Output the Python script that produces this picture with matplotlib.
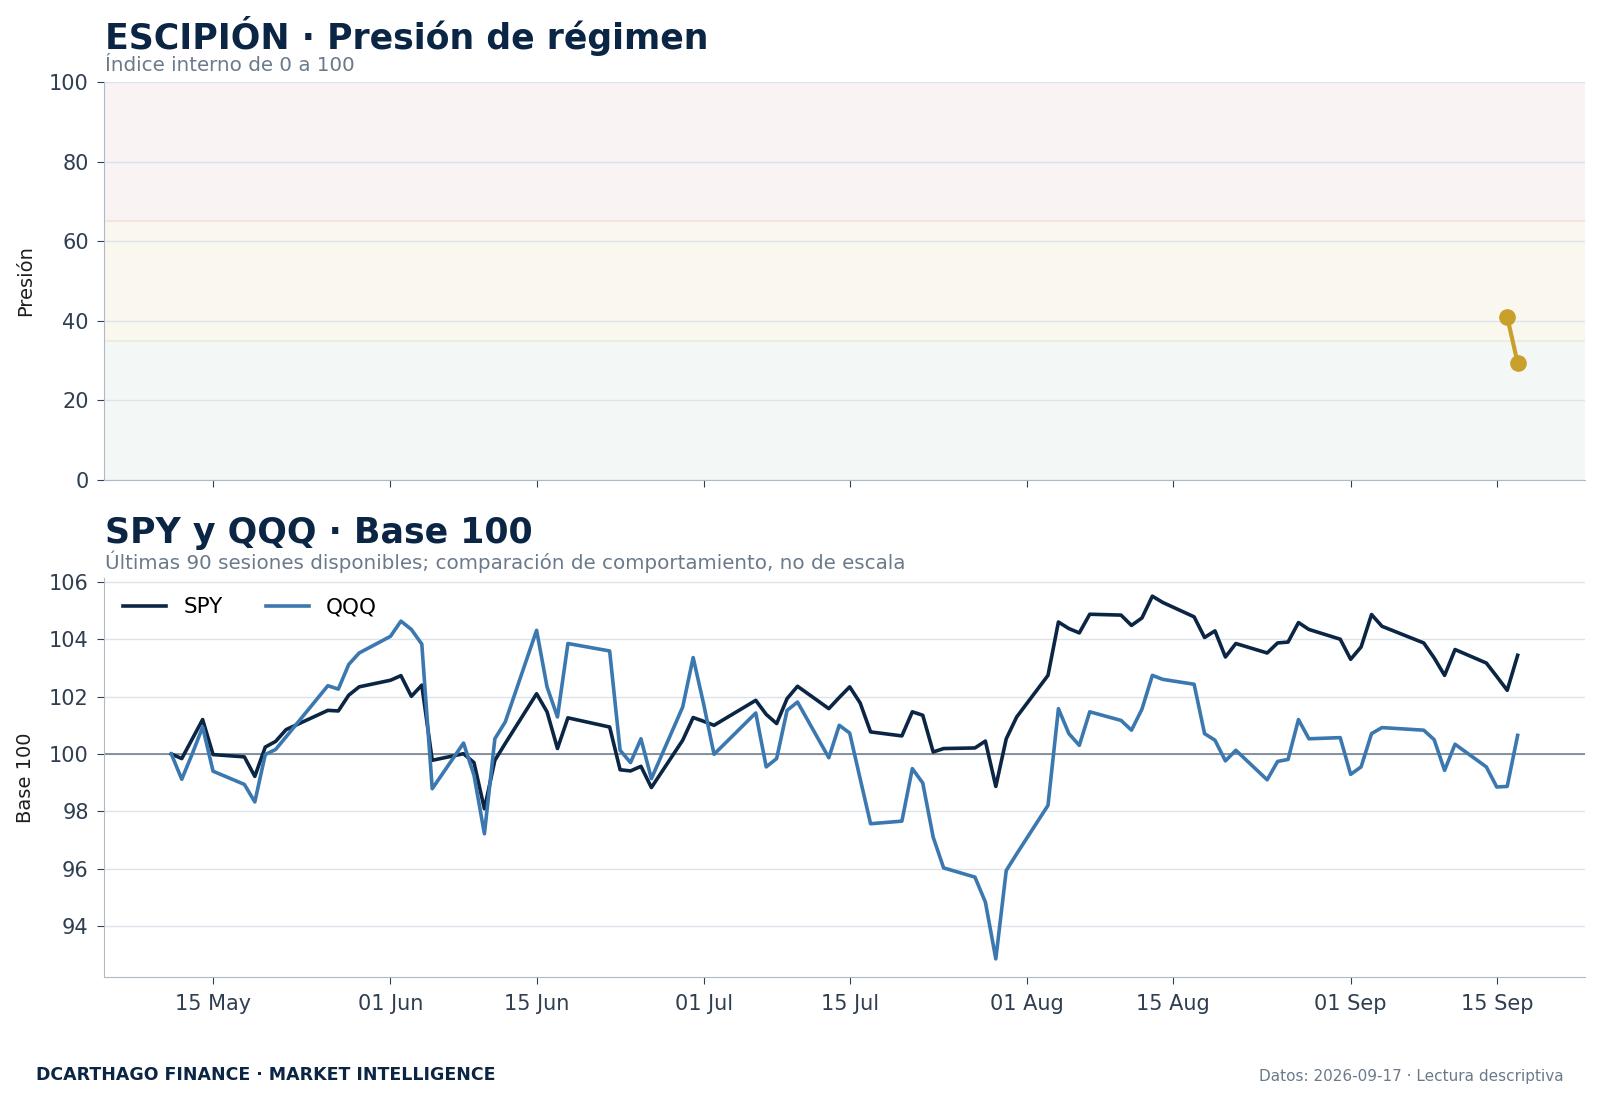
import pandas as pd
import matplotlib
matplotlib.use("Agg")
import matplotlib.pyplot as plt
import matplotlib.dates as mdates

# colours
NAVY = "#0B2545"
STEEL = "#3B78B0"
GOLD = "#C9A02C"
GREY_TXT = "#6B7A8A"
TICK_TXT = "#2F3E50"
GRID = "#DCE3EA"
SPINE = "#AEB9C5"

# 90 US trading sessions, 11 May - 17 Sep 2026
holidays = ["2026-05-25", "2026-06-19", "2026-07-03", "2026-09-07"]
sessions = pd.bdate_range("2026-05-11", "2026-09-17", freq="C", holidays=holidays)

spy = [
    100.0, 99.84, 100.52, 101.2, 99.98, 99.9, 99.22, 100.24, 100.44, 100.85, 101.52, 101.5, 102.05, 102.34,
    102.57, 102.73, 102.01, 102.4, 99.78, 100.01, 99.7, 98.09, 99.78, 100.37, 102.1, 101.47, 100.19, 101.26,
    100.94, 99.45, 99.41, 99.57, 98.83, 100.48, 101.27,
    101.14, 101.0, 101.87, 101.38, 101.06, 101.93, 102.36, 101.58, 101.97, 102.34, 101.78, 100.77, 100.63,
    101.47, 101.35, 100.07, 100.19, 100.21, 100.45, 98.87, 100.53, 101.29,
    102.74, 104.6, 104.37, 104.22, 104.87, 104.84, 104.48, 104.74, 105.5, 105.28, 104.78, 104.06, 104.29,
    103.38, 103.85, 103.52, 103.87, 103.9, 104.58, 104.34, 104.0,
    103.3, 103.73, 104.86, 104.45, 103.87, 103.35, 102.74, 103.64, 103.17, 102.7, 102.22, 103.44,
]

qqq = [
    100.0, 99.12, 100.0, 100.94, 99.4, 98.94, 98.33, 99.98, 100.16, 100.6, 102.38, 102.26, 103.12, 103.52,
    104.1, 104.63, 104.34, 103.83, 98.79, 100.38, 99.26, 97.22, 100.53, 101.12, 104.31, 102.34, 101.29, 103.85,
    103.59, 100.13, 99.7, 100.53, 99.14, 101.64, 103.36,
    101.75, 99.99, 101.43, 99.55, 99.84, 101.52, 101.81, 99.87, 101.0, 100.73, 99.14, 97.57, 97.66,
    99.49, 98.99, 97.1, 96.03, 95.71, 94.84, 92.86, 95.94, 96.52,
    98.21, 101.58, 100.71, 100.3, 101.47, 101.17, 100.83, 101.56, 102.74, 102.6, 102.43, 100.71, 100.48,
    99.76, 100.13, 99.1, 99.74, 99.81, 101.2, 100.53, 100.57,
    99.29, 99.55, 100.71, 100.92, 100.83, 100.5, 99.43, 100.34, 99.55, 98.85, 98.87, 100.65,
]

pressure_dates = pd.to_datetime(["2026-09-16", "2026-09-17"])
pressure_values = [41.0, 29.4]

# regime bands (low, high, colour)
bands = [(0, 35, "#F3F7F6"), (35, 65, "#FAF7EE"), (65, 100, "#F9F3F3")]


def style_axis(ax):
    for side in ("top", "right"):
        ax.spines[side].set_visible(False)
    for side in ("left", "bottom"):
        ax.spines[side].set_color(SPINE)
    ax.tick_params(colors=TICK_TXT, labelsize=15, length=5)
    ax.tick_params(axis="y", pad=6)
    ax.yaxis.grid(True, color=GRID, linewidth=1)
    ax.xaxis.grid(False)
    ax.set_axisbelow(True)


fig = plt.figure(figsize=(16, 11.01), dpi=100)
ax1 = fig.add_axes([0.065, 0.564, 0.9256, 0.3615])
ax2 = fig.add_axes([0.065, 0.1126, 0.9256, 0.3624], sharex=ax1)

# --- top: regime pressure ---
for lo, hi, col in bands:
    ax1.axhspan(lo, hi, color=col, linewidth=0, zorder=0)
ax1.axhline(65, color="#F2E2DA", linewidth=1.2, zorder=0.5)
ax1.axhline(35, color="#ECEADC", linewidth=1.2, zorder=0.5)
ax1.plot(pressure_dates, pressure_values, color=GOLD, linewidth=3, marker="o", markersize=11, zorder=3)
ax1.set_ylim(0, 100)
ax1.set_yticks(range(0, 101, 20))
style_axis(ax1)
ax1.tick_params(labelbottom=False)
ax1.set_ylabel("Presión", fontsize=14, color="#1E1E1E")
ax1.yaxis.set_label_coords(-0.0466, 0.5)

# --- bottom: SPY / QQQ base 100 ---
ax2.axhline(100, color="#6B7785", linewidth=1.1, zorder=1)
ax2.plot(sessions, spy, color=NAVY, linewidth=2.6, label="SPY", zorder=3)
ax2.plot(sessions, qqq, color=STEEL, linewidth=2.6, label="QQQ", zorder=3)
style_axis(ax2)
ax2.set_ylabel("Base 100", fontsize=14, color="#1E1E1E")
ax2.yaxis.set_label_coords(-0.0466, 0.5)
ax2.legend(loc="upper left", ncol=2, frameon=False, fontsize=15.5, columnspacing=2.0)

ax2.xaxis.set_major_locator(mdates.DayLocator(bymonthday=[1, 15]))
ax2.xaxis.set_major_formatter(mdates.DateFormatter("%d %b"))
ax2.tick_params(axis="x", pad=7)

# titles
fig.text(0.0656, 0.9672, "ESCIPIÓN · Presión de régimen", fontsize=25, fontweight="bold",
         color=NAVY, va="center", ha="left")
fig.text(0.0656, 0.9405, "Índice interno de 0 a 100", fontsize=14.3, color=GREY_TXT, va="center", ha="left")
fig.text(0.0656, 0.5159, "SPY y QQQ · Base 100", fontsize=25, fontweight="bold",
         color=NAVY, va="center", ha="left")
fig.text(0.0656, 0.4896, "Últimas 90 sesiones disponibles; comparación de comportamiento, no de escala",
         fontsize=14.3, color=GREY_TXT, va="center", ha="left")

# footer
fig.text(0.0225, 0.0236, "DCARTHAGO FINANCE · MARKET INTELLIGENCE", fontsize=12.5, fontweight="bold",
         color=NAVY, va="center", ha="left")
fig.text(0.9775, 0.0227, "Datos: 2026-09-17 · Lectura descriptiva", fontsize=11, color=GREY_TXT,
         va="center", ha="right")

fig.savefig("out.png", dpi=100)
